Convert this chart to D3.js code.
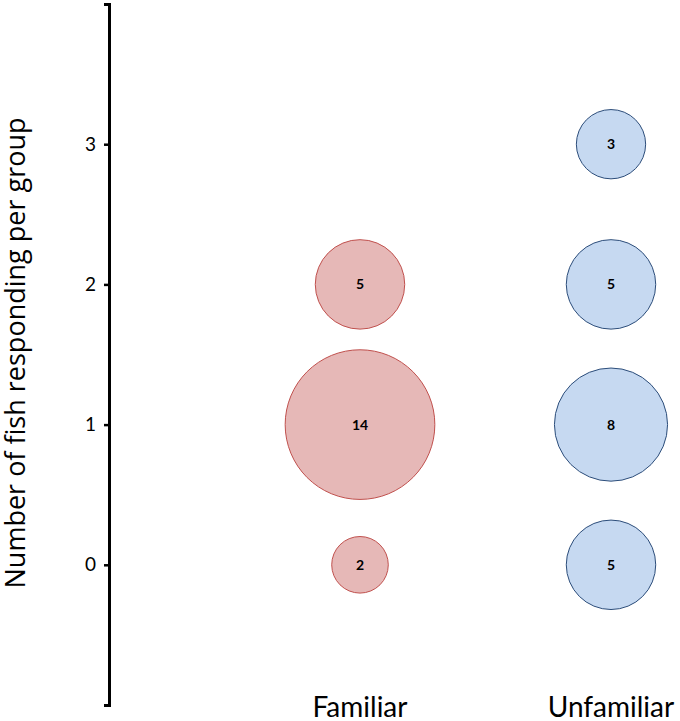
<!DOCTYPE html>
<html><head><meta charset="utf-8">
<script src="https://cdn.jsdelivr.net/npm/d3@7"></script>
<style>body{margin:0;background:#fff}</style>
</head><body>
<svg id="chart" width="680" height="721"></svg>
<script>
const categories = ["Familiar", "Unfamiliar"];
const responders = [0, 1, 2, 3];
const familiarCounts = [2, 14, 5, 0];
const unfamiliarCounts = [5, 8, 5, 3];
const yTicks = [0, 1, 2, 3];
const yTitle = "Number of fish responding per group";

const fills = {Familiar: "#e6b8b7", Unfamiliar: "#c6d9f1"};
const strokes = {Familiar: "#c0504d", Unfamiliar: "#2c4d7a"};

const svg = d3.select("#chart");
const y = d3.scaleLinear().domain([-1, 4]).range([705, 4]);
const x = d3.scalePoint().domain(categories).range([360, 611]);
const r = d3.scaleSqrt().domain([0, 1]).range([0, 20]);

const data = [];
categories.forEach((c, ci) => {
  const counts = ci === 0 ? familiarCounts : unfamiliarCounts;
  responders.forEach((k, i) => { if (counts[i] > 0) data.push({cat: c, k, n: counts[i]}); });
});

// axis
const axisX = 109;
const axis = d3.axisLeft(y).tickValues(yTicks).tickFormat(d3.format("d")).tickSize(5).tickPadding(8).tickSizeOuter(5);
const ag = svg.append("g").attr("transform", `translate(${axisX},0)`).call(axis);
ag.select(".domain").attr("stroke", "#000").attr("stroke-width", 3);
ag.selectAll(".tick line").attr("stroke", "#000").attr("stroke-width", 2.5);
ag.selectAll(".tick text").attr("font-family", "Lato, 'Open Sans', sans-serif").attr("font-size", 19).attr("fill", "#000");

// bubbles
const g = svg.append("g");
g.selectAll("circle").data(data).join("circle")
  .attr("cx", d => x(d.cat)).attr("cy", d => y(d.k)).attr("r", d => r(d.n))
  .attr("fill", d => fills[d.cat]).attr("stroke", d => strokes[d.cat]).attr("stroke-width", 1);
g.selectAll("text").data(data).join("text")
  .attr("x", d => x(d.cat)).attr("y", d => y(d.k)).attr("dy", "0.36em")
  .attr("text-anchor", "middle").attr("font-family", "Lato, 'Open Sans', sans-serif")
  .attr("font-weight", "bold").attr("font-size", 14).attr("fill", "#000")
  .text(d => d.n);

// category labels, sized to match the reference width
const catFont = "Lato, 'Open Sans', sans-serif";
const cats = svg.selectAll(".cat").data(categories).join("text").attr("class", "cat")
  .attr("x", d => x(d)).attr("text-anchor", "middle")
  .attr("font-family", catFont).attr("font-size", 24).attr("fill", "#000")
  .text(d => d);
const w0 = cats.node().getComputedTextLength();
const catSize = Math.min(28, 24 * 101 / w0);
cats.attr("font-size", catSize).attr("y", 697 + 0.72 * catSize);

// y title, sized to span the reference length
const title = svg.append("text")
  .attr("text-anchor", "middle").attr("font-family", "'Open Sans', sans-serif")
  .attr("font-size", 24).attr("fill", "#000").text(yTitle);
const tw = title.node().getComputedTextLength();
const tSize = Math.min(27, 24 * 478 / tw);
title.attr("font-size", tSize).attr("transform", `translate(25,353) rotate(-90)`);
</script>
</body></html>
